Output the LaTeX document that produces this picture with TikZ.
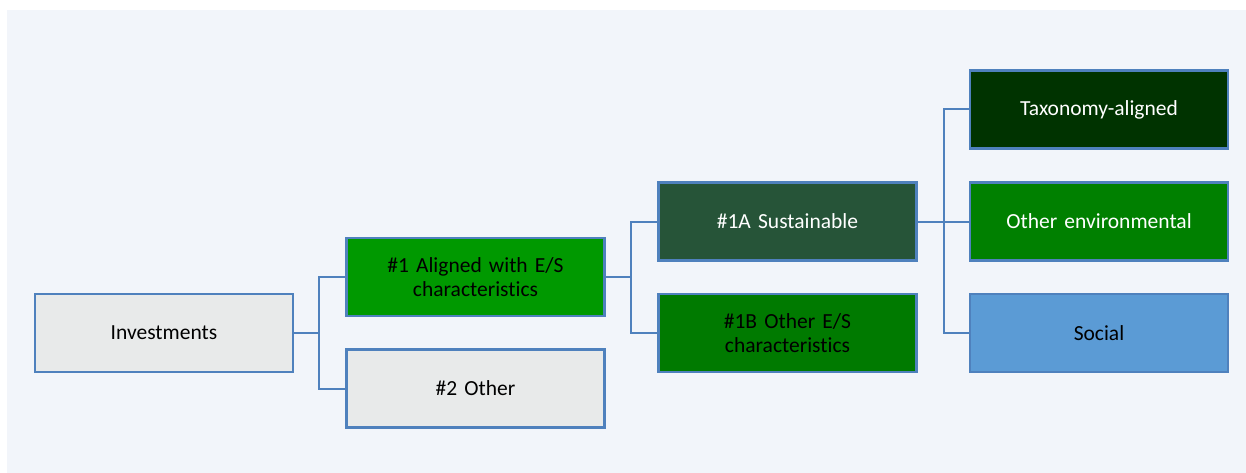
\documentclass[tikz,border=0pt]{standalone}
\usepackage{fontspec}
\setmainfont[Ligatures=NoCommon]{Carlito}
\definecolor{bg}{HTML}{F2F5FA}
\definecolor{edge}{HTML}{4F81BD}
\definecolor{grayfill}{HTML}{E8EAEA}
\definecolor{greenA}{HTML}{009900}
\definecolor{sust}{HTML}{265438}
\definecolor{greenB}{HTML}{007A00}
\definecolor{taxo}{HTML}{003300}
\definecolor{othenv}{HTML}{008000}
\definecolor{social}{HTML}{5B9BD5}
\tikzset{
  box/.style={draw=edge, line width=2.4pt, minimum width=258pt, minimum height=78pt,
    inner sep=0pt, align=center, font=\fontsize{21.5}{24.5}\selectfont, text width=240pt},
  conn/.style={draw=edge, line width=2pt},
}
\begin{document}
\begin{tikzpicture}[x=1pt,y=-1pt]
\useasboundingbox (0,0) rectangle (1246,473);
\fill[white] (0,0) rectangle (1246,473);
\fill[bg] (7,10) rectangle (1246,473);
\node[box, fill=grayfill] (inv) at (164,333) {Investments};
\node[box, fill=greenA] (a1) at (475.5,277) {\#1 Aligned with E/S\\characteristics};
\node[box, fill=grayfill] (o2) at (475.5,388.5) {\#2 Other};
\node[box, fill=sust, text=white] (s1a) at (787.5,221.5) {\#1A Sustainable};
\node[box, fill=greenB] (o1b) at (787.5,333) {\#1B Other E/S\\characteristics};
\node[box, fill=taxo, text=white] (tax) at (1099,109.5) {Taxonomy-aligned};
\node[box, fill=othenv, text=white] (env) at (1099,221.5) {Other environmental};
\node[box, fill=social] (soc) at (1099,333) {Social};
\coordinate (j1) at (319,333);
\coordinate (j2) at (631,277);
\coordinate (j3) at (944,221.5);
\draw[conn] (inv.east) -- (j1);
\draw[conn] (j1) |- (a1.west);
\draw[conn] (j1) |- (o2.west);
\draw[conn] (a1.east) -- (j2);
\draw[conn] (j2) |- (s1a.west);
\draw[conn] (j2) |- (o1b.west);
\draw[conn] (s1a.east) -- (env.west);
\draw[conn] (j3) |- (tax.west);
\draw[conn] (j3) |- (soc.west);
\end{tikzpicture}
\end{document}
